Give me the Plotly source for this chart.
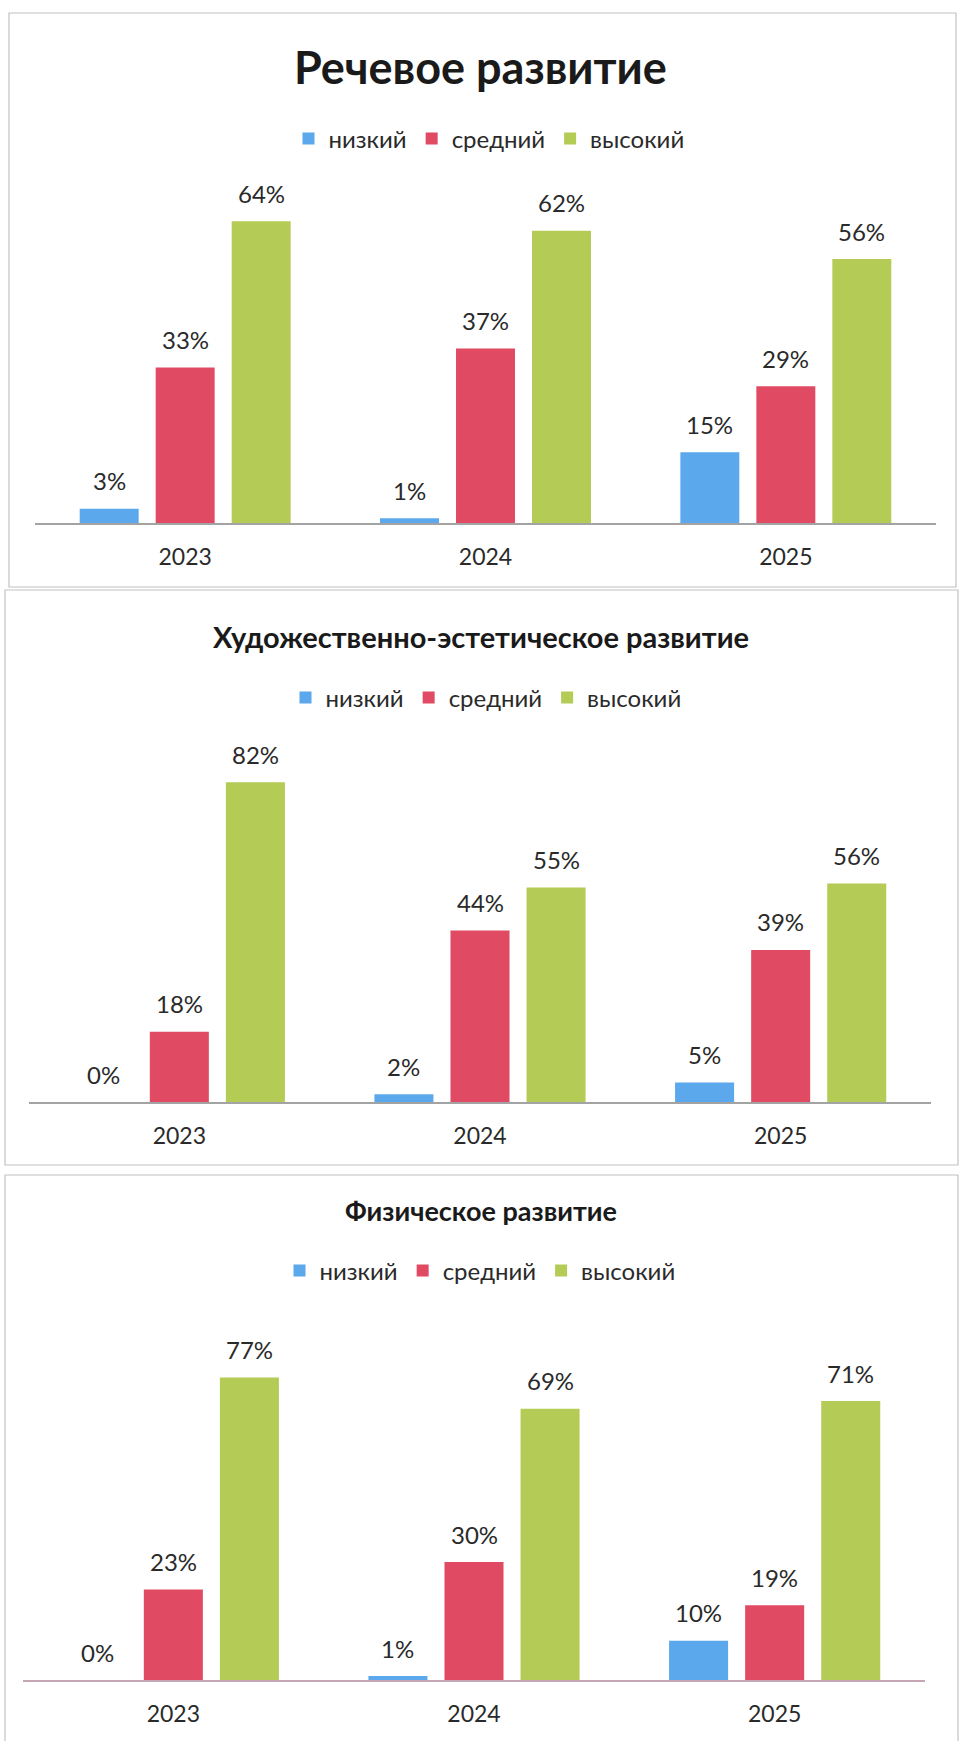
import plotly.graph_objects as go

# ---------------- data ----------------
years = ["2023", "2024", "2025"]
series_names = ["низкий", "средний", "высокий"]
colors = ["#5BA8EC", "#E04A62", "#B4CC55"]

titles = ["Речевое развитие",
          "Художественно-эстетическое развитие",
          "Физическое развитие"]

speech_low = [3, 1, 15]
speech_mid = [33, 37, 29]
speech_high = [64, 62, 56]

art_low = [0, 2, 5]
art_mid = [18, 44, 39]
art_high = [82, 55, 56]

phys_low = [0, 1, 10]
phys_mid = [23, 30, 19]
phys_high = [77, 69, 71]

panels_data = [
    [speech_low, speech_mid, speech_high],
    [art_low, art_mid, art_high],
    [phys_low, phys_mid, phys_high],
]

# ---------------- layout geometry (pixels) ----------------
W, H = 961, 1741
FONT = "Lato, 'Open Sans', 'DejaVu Sans', sans-serif"
TXT = "#2a2a2a"
BARGAP = 0.241
BARGROUPGAP = 0.224

def px_x(x):
    return x / W

def px_y(y):
    return 1 - y / H

panel_geo = [
    dict(x0=35, x1=936, base=523, top=193, ymax=70, ty=67, tsize=45, ly=139, lx=489),
    dict(x0=29, x1=931, base=1102, top=751, ymax=90, ty=636, tsize=29, ly=698, lx=486),
    dict(x0=23, x1=925, base=1680, top=1346, ymax=85, ty=1210, tsize=27, ly=1271, lx=480),
]
frames = [(9, 13, 956, 587), (5, 590, 958, 1165), (5, 1175, 958, 1745)]
axis_colors = ["#a3a3a3", "#a3a3a3", "#c4a6b4"]

fig = go.Figure()
annotations = []
shapes = []
layout_extra = {}

for p, (geo, data) in enumerate(zip(panel_geo, panels_data)):
    sfx = "" if p == 0 else str(p + 1)
    xa, ya = "x" + sfx, "y" + sfx
    leg = "legend" + sfx
    for i, (name, vals) in enumerate(zip(series_names, data)):
        fig.add_trace(go.Bar(
            x=years, y=vals, name=name, xaxis=xa, yaxis=ya,
            marker=dict(color=colors[i], line=dict(width=0)),
            legend=leg, showlegend=True, hoverinfo="skip",
        ))
        slot = (1 - BARGAP) / 3
        for j, v in enumerate(vals):
            annotations.append(dict(
                x=j + (i - 1) * slot, y=v, xref=xa, yref=ya,
                text=f"{v}%", showarrow=False, yanchor="middle",
                yshift=28, font=dict(family=FONT, size=24, color=TXT),
            ))
    layout_extra["xaxis" + sfx] = dict(
        domain=[px_x(geo["x0"]), px_x(geo["x1"])], anchor=ya,
        type="category", showline=True, linecolor=axis_colors[p], linewidth=1.5,
        ticks="outside", ticklen=13, tickcolor="rgba(0,0,0,0)",
        tickfont=dict(family=FONT, size=23, color=TXT),
        showgrid=False, zeroline=False, fixedrange=True,
    )
    layout_extra["yaxis" + sfx] = dict(
        domain=[px_y(geo["base"]), px_y(geo["top"])], anchor=xa,
        range=[0, geo["ymax"]], visible=False, showgrid=False,
        zeroline=False, fixedrange=True,
    )
    layout_extra[leg] = dict(
        orientation="h", x=px_x(geo["lx"]), xanchor="center",
        y=px_y(geo["ly"]), yanchor="middle",
        font=dict(family=FONT, size=24, color=TXT),
        bgcolor="rgba(0,0,0,0)", itemwidth=30, traceorder="normal",
        itemclick=False, itemdoubleclick=False,
    )
    annotations.append(dict(
        x=0.5, y=px_y(geo["ty"]), xref="paper", yref="paper",
        text=f"<b>{titles[p]}</b>", showarrow=False,
        xanchor="center", yanchor="middle",
        font=dict(family=FONT, size=geo["tsize"], color="#1a1a1a"),
    ))
    fx0, fy0, fx1, fy1 = frames[p]
    shapes.append(dict(
        type="rect", xref="paper", yref="paper",
        x0=px_x(fx0), x1=px_x(fx1), y0=px_y(fy1), y1=px_y(fy0),
        line=dict(color="#c2c2c2", width=1.2), fillcolor="rgba(0,0,0,0)",
        layer="below",
    ))

fig.update_layout(
    width=W, height=H,
    margin=dict(l=0, r=0, t=0, b=0),
    paper_bgcolor="white", plot_bgcolor="white",
    barmode="group", bargap=BARGAP, bargroupgap=BARGROUPGAP,
    annotations=annotations, shapes=shapes,
    **layout_extra,
)

fig.write_html(
    "out.html",
    config={"displayModeBar": False},
    post_script="document.body.style.margin='0px';"
                "document.body.style.overflow='hidden';",
)
